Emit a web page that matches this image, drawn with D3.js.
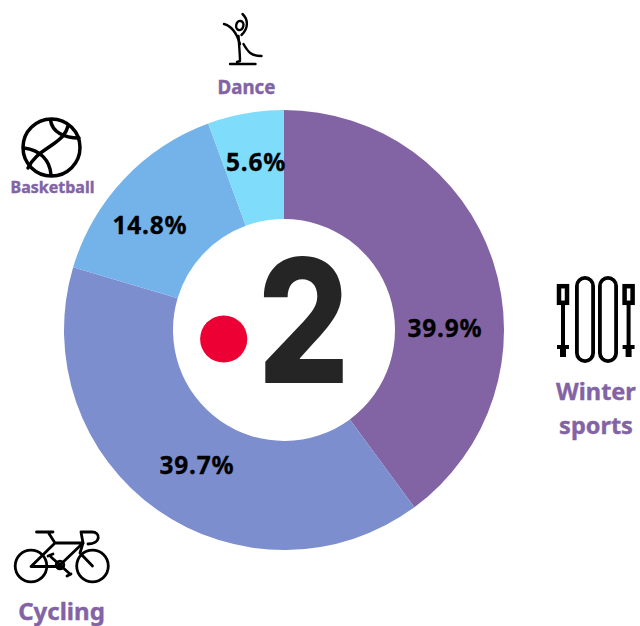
<!DOCTYPE html>
<html><head><meta charset="utf-8">
<script src="https://cdn.jsdelivr.net/npm/d3@7"></script>
<style>html,body{margin:0;padding:0;background:#fff}svg{display:block}text{font-family:"Noto Sans",sans-serif;font-weight:700}</style>
</head><body><div id="c"></div>
<script>
const categories = ["Winter sports","Cycling","Basketball","Dance"];
const shares = [39.9,39.7,14.8,5.6];
const sliceColors = ["#8264a5","#7d8ecf","#74b3ea","#7fdcfb"];
const labelPurple = "#8264a5";

const W=640,H=626,cx=284,cy=330,R=220,r=111;
const svg=d3.select("#c").append("svg").attr("width",W).attr("height",H);
const pie=d3.pie().sort(null).value(d=>d)(shares);
const arc=d3.arc().innerRadius(r).outerRadius(R);
const g=svg.append("g").attr("transform",`translate(${cx},${cy})`);
g.selectAll("path").data(pie).join("path").attr("d",arc).attr("fill",(d,i)=>sliceColors[i]);

const valuePos=[[445,328],[197,465],[150,225],[256,162]];
svg.selectAll("text.v").data(shares).join("text").attr("class","v")
  .attr("x",(d,i)=>valuePos[i][0]).attr("y",(d,i)=>valuePos[i][1]).attr("dy","0.35em")
  .attr("text-anchor","middle").attr("font-size",24.5).attr("letter-spacing",0.8).attr("fill","#000")
  .attr("stroke","#000").attr("stroke-width",0.3)
  .text(d=>d.toFixed(1)+"%");

// category captions
const caption=[
 {lines:[categories[0].split(" ")[0],categories[0].split(" ")[1]],x:596,y:[400,434],s:23.5},
 {lines:[categories[1]],x:61.5,y:[620],s:24},
 {lines:[categories[2]],x:52.5,y:[193],s:16},
 {lines:[categories[3]],x:246.5,y:[94],s:18.7}];
caption.forEach(c=>c.lines.forEach((t,i)=>svg.append("text").attr("x",c.x).attr("y",c.y[i])
  .attr("text-anchor","middle").attr("font-size",c.s).attr("fill",labelPurple)
  .attr("stroke",labelPurple).attr("stroke-width",0.4).text(t)));

// logo
svg.append("circle").attr("cx",223.7).attr("cy",339).attr("r",23.6).attr("fill","#ed0033");
svg.append("text").attr("transform","translate(303.5,382.5) scale(0.84,1)").attr("text-anchor","middle")
  .style("font-family","Inter").style("font-weight",800).attr("font-size",172).attr("fill","#252525").text("2");

// icons
const ic=svg.append("g").attr("fill","none").attr("stroke","#000").attr("stroke-linecap","round").attr("stroke-linejoin","round");
// dance
const dance=ic.append("g").attr("stroke-width",2.4);
dance.append("ellipse").attr("cx",239.8).attr("cy",25.5).attr("rx",3.6).attr("ry",4.6).attr("transform","rotate(12 239.8 25.5)");
dance.append("path").attr("d","M242.5 14C248 19 249 28 241.5 35");
dance.append("path").attr("d","M224 24C232 26 237 34 240 44");
dance.append("path").attr("d","M238.5 36C239 45 240 54 240 61L237 62");
dance.append("path").attr("d","M243.5 44C248 52 251 56 261.5 56");
dance.append("path").attr("d","M230 64H255.5");
// basketball
const ball=ic.append("g").attr("stroke-width",3.5);
ball.append("circle").attr("cx",51.5).attr("cy",147.5).attr("r",28.5);
ball.append("path").attr("d","M68 126C66 134 62 138 52 145C42 152 34 156 28 168");
ball.append("path").attr("d","M50.5 120C52 132 64 138 79 138");
ball.append("path").attr("d","M24 148C40 150 50 160 51 175");
// winter sports
const ski=ic.append("g").attr("stroke-width",3.8);
ski.append("rect").attr("x",576.9).attr("y",277.9).attr("width",16.2).attr("height",83.2).attr("rx",8.1);
ski.append("rect").attr("x",599.9).attr("y",277.9).attr("width",16.2).attr("height",83.2).attr("rx",8.1);
[563,628.6].forEach(x=>{
  ski.append("rect").attr("x",x-4).attr("y",286.2).attr("width",8).attr("height",16.6).attr("stroke-width",4.5).attr("stroke-linejoin","miter");
  ski.append("path").attr("d",`M${x} 304V346`).attr("stroke-width",4).attr("stroke-linecap","butt");
  ski.append("path").attr("d",`M${x-6} 347H${x+6}`).attr("stroke-width",4).attr("stroke-linecap","butt");
  ski.append("path").attr("d",`M${x} 345V357`).attr("stroke-width",6).attr("stroke-linecap","butt");
});
// cycling
const bike=ic.append("g").attr("stroke-width",2.8);
bike.append("circle").attr("cx",31).attr("cy",566).attr("r",15.8);
bike.append("circle").attr("cx",92.5).attr("cy",566).attr("r",15.8);
bike.append("circle").attr("cx",60).attr("cy",565).attr("r",3.8);
bike.append("path").attr("d","M36.5 532H53L48 532L55 543H83L60 565M55 543L31 566.5H60M51 557L70 574M48 556L53 554M67 576L71 574");
bike.append("path").attr("d","M81 532L83 543L80 553L92.5 566M81 532H92C101 532 101 544 88 544");
</script></body></html>
